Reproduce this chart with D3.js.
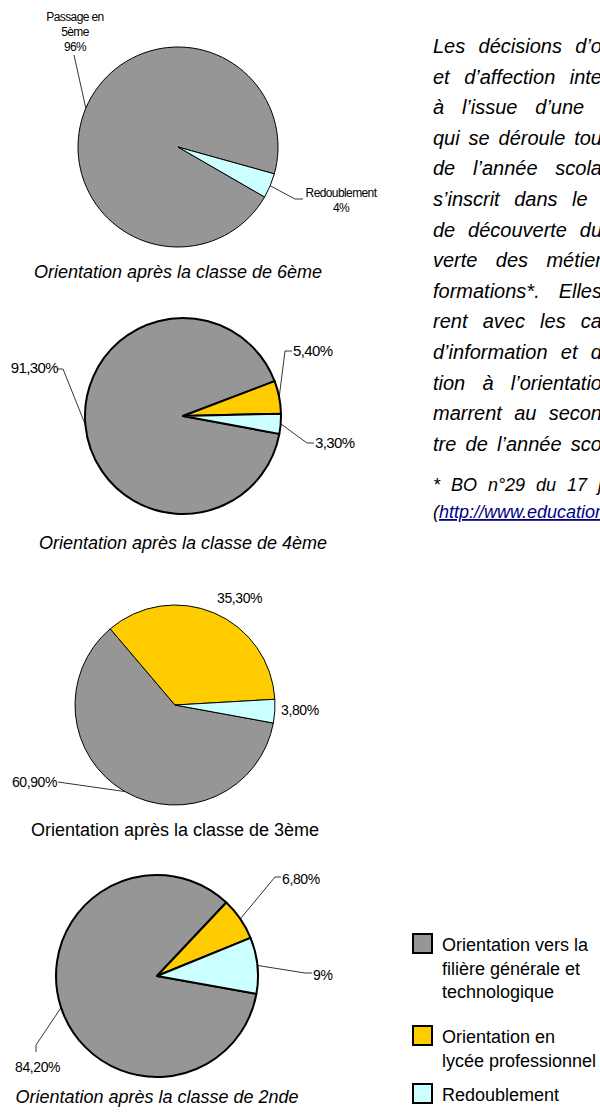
<!DOCTYPE html>
<html>
<head>
<meta charset="utf-8">
<script src="https://cdn.jsdelivr.net/npm/d3@7"></script>
<style>
  body { margin: 0; background: #fff; }
  svg { display: block; font-family: "Liberation Sans", Arial, sans-serif; }
</style>
</head>
<body>
<div id="viz"></div>
<script>
// data
const classes       = ["6ème", "4ème", "3ème", "2nde"];
const series        = ["Orientation vers la filière générale et technologique",
                       "Orientation en lycée professionnel",
                       "Redoublement"];
const generale      = [96, 91.3, 60.9, 84.2];
const professionnel = [0, 5.4, 35.3, 6.8];
const redoublement  = [4, 3.3, 3.8, 9];
const pie1Names     = [["Passage en", "5ème"], [], ["Redoublement"]];
const legendLines   = [["Orientation vers la", "filière générale et", "technologique"],
                       ["Orientation en", "lycée professionnel"],
                       ["Redoublement"]];
const paragraph = [
  "Les décisions d’orientation",
  "et d’affection interviennent",
  "à l’issue d’une procédure",
  "qui se déroule tout au long",
  "de l’année scolaire. Elle",
  "s’inscrit dans le parcours",
  "de découverte du dispositif",
  "verte des métiers et des",
  "formations*. Elles démar-",
  "rent avec les campagnes",
  "d’information et de prépara-",
  "tion à l’orientation qui dé-",
  "marrent au second trimes-",
  "tre de l’année scolaire."
];
// the part of each line that shows before the page edge (used to justify the lines)
const paragraphCut = [
  "Les décisions d’o", "et d’affection inte", "à l’issue d’une ", "qui se déroule tou",
  "de l’année scola", "s’inscrit dans le ", "de découverte du", "verte des métier",
  "formations*. Elles", "rent avec les ca", "d’information et d", "tion à l’orientatio",
  "marrent au secon", "tre de l’année sco"
];
const footnote    = ["* BO n°29 du 17 juillet 2008", "http://www.education.gouv.fr/cid22141/mene0800567c.html"];
const footnoteCut = "* BO n°29 du 17 j";

const colors = ["#969696", "#ffcc00", "#ccffff"];

// layout: one entry per pie, label offsets are relative to the pie centre
const layout = [
  {cx: 178, cy: 147, r: 100, start: 120, stroke: 1, titleY: 278, italic: true, fs: 12, ls: -0.6, lh: 15,
   labels: [{dx: -103, dy: -126, anchor: "middle", leader: [[-104, -92]]},
            null,
            {dx: 163, dy: 50, anchor: "middle", leader: [[117, 52], [125, 52]]}]},
  {cx: 183, cy: 416, r: 98, start: 100.5, stroke: 2, titleY: 549, italic: true, fs: 15, ls: -0.6, lh: 15,
   labels: [{dx: -125, dy: -43, anchor: "end", leader: [[-120, -47], [-126, -47]]},
            {dx: 110, dy: -60, anchor: "start", leader: [[102, -65], [109, -65]]},
            {dx: 132, dy: 32, anchor: "start", leader: [[124, 27], [131, 27]]}]},
  {cx: 175, cy: 705, r: 100, start: 100.4, stroke: 1, titleY: 836, italic: false, fs: 14, ls: -0.4, lh: 15,
   labels: [{dx: -118, dy: 82, anchor: "end", leader: [[-117, 77]]},
            {dx: 42, dy: -102, anchor: "start", leader: []},
            {dx: 106, dy: 10, anchor: "start", leader: []}]},
  {cx: 157, cy: 976, r: 101, start: 100.2, stroke: 2, titleY: 1103, italic: true, fs: 14, ls: -0.4, lh: 15,
   labels: [{dx: -142, dy: 96, anchor: "start", leader: [[-121, 69], [-121, 76]]},
            {dx: 125, dy: -92, anchor: "start", leader: [[118, -99], [124, -99]]},
            {dx: 156, dy: 4, anchor: "start", leader: [[148, -3], [155, -3]]}]}
];

const width = 600, height = 1116;
const textLeft = 433, cutX = 602;
const rad = deg => deg * Math.PI / 180;
const pct = v => (Number.isInteger(v) ? v : d3.format(".2f")(v).replace(".", ",")) + "%";

const svg = d3.select("#viz").append("svg")
  .attr("width", width)
  .attr("height", height);

svg.append("rect").attr("width", width).attr("height", height).attr("fill", "#fff");

classes.forEach((cls, i) => {
  const L = layout[i];
  const values = [generale[i], professionnel[i], redoublement[i]];
  const slices = values.map((value, k) => ({k, value})).filter(d => d.value > 0);

  const pie = d3.pie().sort(null).value(d => d.value)
    .startAngle(rad(L.start)).endAngle(rad(L.start) + 2 * Math.PI);
  const arc = d3.arc().innerRadius(0).outerRadius(L.r);
  const edge = d3.arc().innerRadius(L.r).outerRadius(L.r);

  const g = svg.append("g").attr("transform", `translate(${L.cx},${L.cy})`);

  const arcs = pie(slices);

  g.selectAll("path.slice")
    .data(arcs)
    .join("path")
    .attr("class", "slice")
    .attr("d", arc)
    .attr("fill", d => colors[d.data.k])
    .attr("stroke", "#000")
    .attr("stroke-width", L.stroke)
    .attr("stroke-linejoin", "round");

  // leader lines + labels
  arcs.forEach(a => {
    const spec = L.labels[a.data.k];
    if (!spec) return;
    if (spec.leader.length) {
      const pts = [edge.centroid(a)].concat(spec.leader);
      g.append("path")
        .attr("d", d3.line()(pts))
        .attr("fill", "none")
        .attr("stroke", "#000")
        .attr("stroke-width", 0.8);
    }
    const lines = i === 0 ? pie1Names[a.data.k].concat([pct(a.data.value)]) : [pct(a.data.value)];
    const t = g.append("text")
      .attr("x", spec.dx)
      .attr("y", spec.dy)
      .attr("text-anchor", spec.anchor)
      .attr("font-size", L.fs)
      .attr("letter-spacing", L.ls)
      .attr("fill", "#000");
    lines.forEach((s, j) => {
      t.append("tspan").attr("x", spec.dx).attr("dy", j ? L.lh : 0).text(s);
    });
  });

  svg.append("text")
    .attr("x", L.cx)
    .attr("y", L.titleY)
    .attr("text-anchor", "middle")
    .attr("font-size", 18)
    .attr("font-style", L.italic ? "italic" : "normal")
    .attr("fill", "#000")
    .text("Orientation après la classe de " + cls);
});

// justify a line: spread the spaces so that `cut` ends at the page edge
function justify(sel, cut) {
  const node = sel.node();
  const w = node.getSubStringLength(0, cut.length);
  const gaps = (cut.match(/ /g) || []).length;
  if (gaps) sel.attr("word-spacing", Math.max(0, (cutX - textLeft - w) / gaps));
}

// right hand paragraph (clipped by the page edge)
const para = svg.append("g").attr("font-style", "italic").attr("font-size", 20).attr("fill", "#000");
paragraph.forEach((s, i) => {
  const t = para.append("text")
    .attr("x", textLeft)
    .attr("y", 53 + 30.6 * i)
    .text(s);
  justify(t, paragraphCut[i]);
});
const fn1 = para.append("text")
  .attr("x", textLeft).attr("y", 491)
  .attr("font-size", 18)
  .text(footnote[0]);
justify(fn1, footnoteCut);
const fn2 = para.append("text").attr("x", textLeft).attr("y", 518).attr("font-size", 18);
fn2.append("tspan").text("(");
fn2.append("tspan").attr("fill", "#000080").attr("text-decoration", "underline").text(footnote[1]);
fn2.append("tspan").text(")");

// legend
const legendTop = [934, 1026, 1084];
const legend = svg.append("g");
series.forEach((s, k) => {
  legend.append("rect")
    .attr("x", 413).attr("y", legendTop[k])
    .attr("width", 19).attr("height", 19)
    .attr("fill", colors[k])
    .attr("stroke", "#000")
    .attr("stroke-width", 2);
  const t = legend.append("text")
    .attr("x", 442)
    .attr("y", legendTop[k] + 17)
    .attr("font-size", 18)
    .attr("fill", "#000");
  legendLines[k].forEach((line, j) => {
    t.append("tspan").attr("x", 442).attr("dy", j ? 23.5 : 0).text(line);
  });
});
</script>
</body>
</html>
